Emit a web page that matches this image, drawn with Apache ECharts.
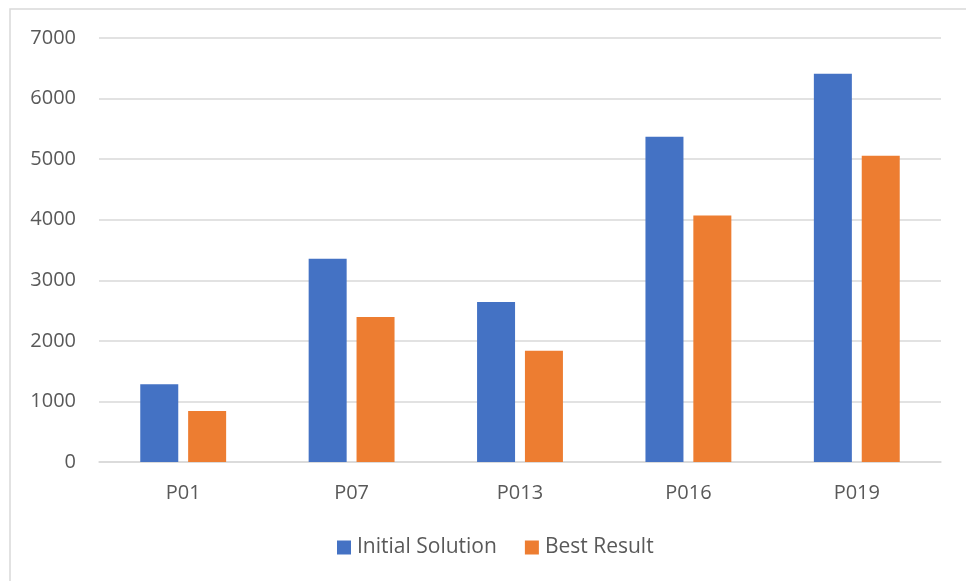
<!DOCTYPE html>
<html>
<head>
<meta charset="utf-8">
<script src="https://cdn.jsdelivr.net/npm/echarts@6/dist/echarts.min.js"></script>
<style>
  html, body { margin: 0; padding: 0; background: #ffffff; }
  #chart { width: 966px; height: 581px; }
</style>
</head>
<body>
<div id="chart"></div>
<script>
// Problem instances on the x axis
const categories = ['P01', 'P07', 'P013', 'P016', 'P019'];
// Objective values per instance
const initialSolution = [1282, 3355, 2640, 5368, 6408];
const bestResult = [842, 2393, 1837, 4071, 5055];
// Value axis range
const yMin = 0;
const yMax = 7000;
const yStep = 1000;

const textColor = '#595959';
const fontFamily = '"Open Sans", "Noto Sans", sans-serif';

const chart = echarts.init(document.getElementById('chart'), null, { renderer: 'canvas' });

chart.setOption({
  animation: false,
  backgroundColor: '#ffffff',
  textStyle: { fontFamily: fontFamily, color: textColor },
  graphic: [
    {
      type: 'rect',
      shape: { x: 10, y: 9, width: 1000, height: 640 },
      style: { fill: 'none', stroke: '#d9d9d9', lineWidth: 1.5 },
      silent: true,
      z: -1
    }
  ],
  grid: { left: 99, right: 25, top: 38, bottom: 119, containLabel: false },
  legend: {
    bottom: 18,
    left: 332,
    itemWidth: 14,
    itemHeight: 14,
    itemGap: 28,
    icon: 'rect',
    textStyle: { fontFamily: fontFamily, fontSize: 21, color: textColor, padding: [0, 0, 0, 1] },
    data: ['Initial Solution', 'Best Result']
  },
  xAxis: {
    type: 'category',
    data: categories,
    axisLine: { show: true, lineStyle: { color: '#d9d9d9', width: 1.5 } },
    axisTick: { show: false },
    axisLabel: { fontFamily: fontFamily, fontSize: 20, color: textColor, margin: 21 }
  },
  yAxis: {
    type: 'value',
    min: yMin,
    max: yMax,
    interval: yStep,
    axisLine: { show: false },
    axisTick: { show: false },
    splitLine: { lineStyle: { color: '#d9d9d9', width: 1.5 } },
    axisLabel: {
      fontFamily: fontFamily,
      fontSize: 20,
      color: textColor,
      margin: 23,
      formatter: function (v) { return String(v); }
    }
  },
  series: [
    {
      name: 'Initial Solution',
      type: 'bar',
      data: initialSolution,
      barWidth: 38,
      barGap: '26%',
      itemStyle: { color: '#4472c4' }
    },
    {
      name: 'Best Result',
      type: 'bar',
      data: bestResult,
      barWidth: 38,
      itemStyle: { color: '#ed7d31' }
    }
  ]
});
</script>
</body>
</html>
